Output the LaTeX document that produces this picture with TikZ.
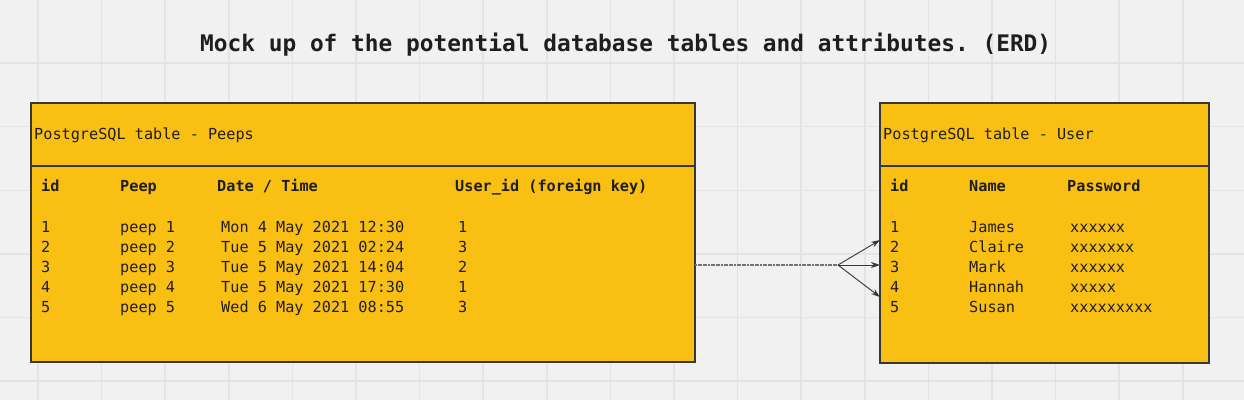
\documentclass[tikz,border=0pt]{standalone}
\usepackage{xcolor}
\usepackage{fontspec}
\setmonofont{DejaVu Sans Mono}
\usepackage{tikz}
\usetikzlibrary{arrows.meta, positioning}

\definecolor{canvas}{HTML}{F1F1F1}
\definecolor{gridline}{HTML}{E4E4E4}
\definecolor{amber}{HTML}{F9C013}
\definecolor{edge}{HTML}{383838}
\definecolor{ink}{HTML}{1E1E1E}

\begin{document}
\begin{tikzpicture}[
    x=1pt, y=-1pt,
    tablebox/.style={rectangle, draw=edge, fill=amber, line width=2pt, outer sep=0pt, inner sep=0pt},
    headtext/.style={anchor=base west, inner sep=0pt, text=ink, font=\ttfamily\fontsize{15.2}{18}\selectfont},
    colhead/.style={headtext, font=\ttfamily\bfseries\fontsize{15.2}{18}\selectfont},
    cell/.style={headtext},
    link/.style={draw=black!55, line width=1.3pt, dash pattern=on 2pt off 0.6pt},
    fk/.style={draw=edge, line width=0.9pt, -{Stealth[length=9pt, width=6pt]}}
]

% Canvas and grid
\fill[canvas] (0,0) rectangle (1244,400);
\useasboundingbox (0,0) rectangle (1244,400);
\foreach \gx in {0,...,18}
    \draw[gridline, line width=1.5pt] ({38+63.6*\gx},0) -- ({38+63.6*\gx},400);
\foreach \gy in {1,...,6}
    \draw[gridline, line width=1.5pt] (0,{-0.5+63.6*\gy}) -- (1244,{-0.5+63.6*\gy});

% Title
\node[anchor=base west, inner sep=0pt, text=ink, font=\ttfamily\bfseries\fontsize{22.8}{27}\selectfont] (title) at (200,51) {Mock up of the potential database tables and attributes. (ERD)};

% Peeps table
\node[tablebox, anchor=north west, minimum width=664pt, minimum height=63pt] (peepshead) at (31,103) {};
\node[tablebox, below=0pt of peepshead, minimum width=664pt, minimum height=196pt] (peepsbody) {};
\node[headtext] (peepstitle) at (34,139) {PostgreSQL table - Peeps};
\node[colhead] (peepsid) at (41,191.5) {id};
\node[colhead] (peepspeep) at (120,191.5) {Peep};
\node[colhead] (peepsdate) at (217,191.5) {Date / Time};
\node[colhead] (peepsuser) at (455,191.5) {User\_id (foreign key)};
\foreach \id/\peep/\when/\uid [count=\n from 0] in {
    1/peep 1/Mon 4 May 2021 12:30/1,
    2/peep 2/Tue 5 May 2021 02:24/3,
    3/peep 3/Tue 5 May 2021 14:04/2,
    4/peep 4/Tue 5 May 2021 17:30/1,
    5/peep 5/Wed 6 May 2021 08:55/3} {
    \node[cell] (peepid\id) at (41,{232.5+20*\n}) {\id};
    \node[cell] (peeptext\id) at (120,{232.5+20*\n}) {\peep};
    \node[cell] (peepwhen\id) at (221,{232.5+20*\n}) {\when};
    \node[cell] (peepuid\id) at (458,{232.5+20*\n}) {\uid};
}

% User table
\node[tablebox, anchor=north west, minimum width=329pt, minimum height=63pt] (userhead) at (880,103) {};
\node[tablebox, below=0pt of userhead, minimum width=329pt, minimum height=197pt] (userbody) {};
\node[headtext] (usertitle) at (883,139) {PostgreSQL table - User};
\node[colhead] (userid) at (890,191.5) {id};
\node[colhead] (username) at (969,191.5) {Name};
\node[colhead] (userpass) at (1067,191.5) {Password};
\foreach \id/\name/\pass [count=\n from 0] in {
    1/James/xxxxxx,
    2/Claire/xxxxxxx,
    3/Mark/xxxxxx,
    4/Hannah/xxxxx,
    5/Susan/xxxxxxxxx} {
    \node[cell] (userid\id) at (890,{232.5+20*\n}) {\id};
    \node[cell] (username\id) at (969,{232.5+20*\n}) {\name};
    \node[cell] (userpass\id) at (1070,{232.5+20*\n}) {\pass};
}

% Foreign key link
\coordinate (fork) at (838,265);
\draw[link] (fork -| peepsbody.east) -- (fork);
\draw[fk] (fork) -- ([yshift=25pt]fork -| userbody.west);
\draw[fk] (fork) -- (fork -| userbody.west);
\draw[fk] (fork) -- ([yshift=-32pt]fork -| userbody.west);

\end{tikzpicture}
\end{document}
